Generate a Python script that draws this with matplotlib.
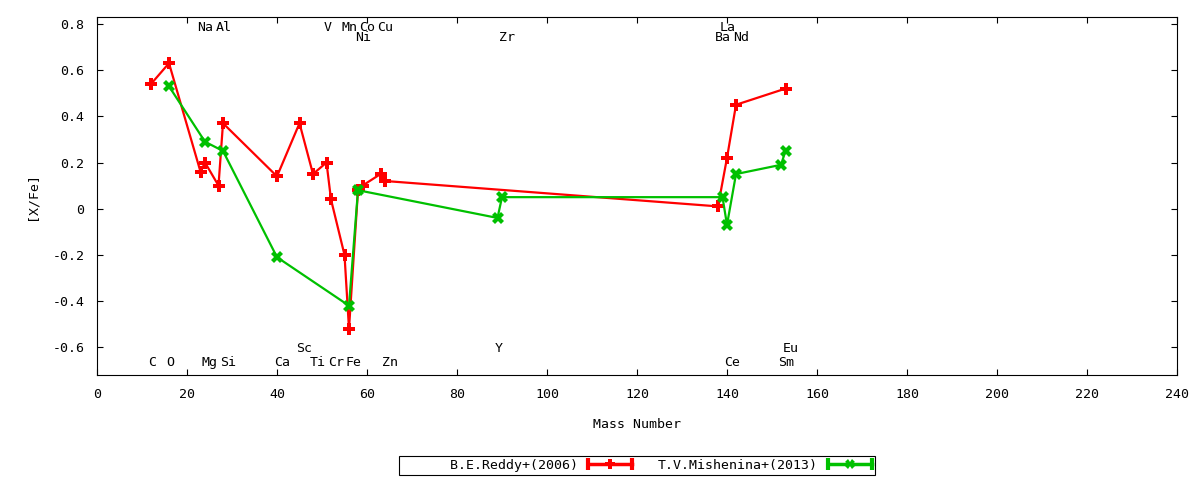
import numpy as np
import matplotlib
matplotlib.use("Agg")
import matplotlib.pyplot as plt
from matplotlib.lines import Line2D
from matplotlib.legend_handler import HandlerBase
from matplotlib.ticker import FuncFormatter

# abundances
reddy_mass = [12, 16, 23, 24, 27, 28, 40, 45, 48, 51, 52, 55, 56, 58, 59,
              63, 64, 138, 140, 142, 153]
reddy_xfe = [0.54, 0.63, 0.16, 0.20, 0.10, 0.37, 0.14, 0.37, 0.15, 0.20, 0.04,
             -0.20, -0.52, 0.08, 0.10, 0.15, 0.12, 0.01, 0.22, 0.45, 0.52]

mish_mass = [16, 24, 28, 40, 56, 58, 89, 90, 139, 140, 142, 152, 153]
mish_xfe = [0.53, 0.29, 0.25, -0.21, -0.42, 0.08, -0.04, 0.05, 0.05, -0.07,
            0.15, 0.19, 0.25]

series_labels = ["B.E.Reddy+(2006)", "T.V.Mishenina+(2013)"]

# element name labels
elem_names = ["Na", "Al", "V", "Mn", "Co", "Cu", "La",
              "Ni", "Zr", "Ba", "Nd",
              "C", "O", "Mg", "Si", "Ca", "Ti", "Cr", "Fe", "Zn", "Ce", "Sm",
              "Sc", "Y", "Eu"]
elem_mass = [23, 27, 51, 55, 59, 63, 139,
             58, 90, 138, 142,
             12, 16, 24, 28, 40, 48, 52, 56, 64, 140, 152,
             45, 89, 153]
elem_row = ["top"] * 7 + ["top2"] * 4 + ["bot"] * 11 + ["bot2"] * 3

ROW_Y = {"top": 0.785, "top2": 0.742, "bot": -0.668, "bot2": -0.607}

RED = "#ff0000"
GREEN = "#00c000"

plt.rcParams["font.family"] = "DejaVu Sans Mono"
plt.rcParams["font.size"] = 9.5
plt.rcParams["axes.unicode_minus"] = False


class CapLineHandler(HandlerBase):
    def __init__(self, marker, color, ms):
        super().__init__()
        self.marker, self.color, self.ms = marker, color, ms

    def create_artists(self, legend, orig_handle, xdescent, ydescent,
                       width, height, fontsize, trans):
        y = height / 2 - ydescent
        x0, x1 = -xdescent, width - xdescent
        line = Line2D([x0, x1], [y, y], color=self.color, lw=2.5)
        caps = Line2D([x0, x1], [y, y], ls="none", marker="|", ms=8,
                      mew=3, color=self.color)
        mk = Line2D([(x0 + x1) / 2], [y], ls="none", marker=self.marker,
                    ms=self.ms, color=self.color, mew=0)
        for a in (line, caps, mk):
            a.set_transform(trans)
        return [line, caps, mk]


fig = plt.figure(figsize=(12, 4.8), dpi=100)
ax = fig.add_axes([97 / 1200, 1 - 375 / 480, 1080 / 1200, 358 / 480])

h1, = ax.plot(reddy_mass, reddy_xfe, color=RED, lw=1.6, marker="P",
              ms=8.5, mew=0)
h2, = ax.plot(mish_mass, mish_xfe, color=GREEN, lw=1.6, marker="X",
              ms=9, mew=0)

for name, m, row in zip(elem_names, elem_mass, elem_row):
    ax.annotate(name, (m, ROW_Y[row]), xytext=(-2.2, 0),
                textcoords="offset points", ha="left", va="center")

ax.set_xlim(0, 240)
ax.set_ylim(-0.72, 0.83)
ax.set_xticks(np.arange(0, 241, 20))
ax.set_yticks(np.arange(-0.6, 0.81, 0.2))
ax.yaxis.set_major_formatter(FuncFormatter(lambda v, p: "%g" % round(v, 2)))
ax.tick_params(direction="in", top=True, right=True, length=4, width=0.8)
ax.tick_params(axis="x", pad=9)
ax.tick_params(axis="y", pad=9)
for s in ax.spines.values():
    s.set_linewidth(0.8)

ax.set_xlabel("Mass Number")
ax.set_ylabel("[X/Fe]")
ax.xaxis.set_label_coords(0.5, -0.12)
ax.yaxis.set_label_coords(-0.054, 0.5)

leg = ax.legend([h1, h2], ["      " + series_labels[0], series_labels[1]],
                handler_map={h1: CapLineHandler("P", RED, 7),
                             h2: CapLineHandler("X", GREEN, 7)},
                loc="center", bbox_to_anchor=(0.5, -0.2528), ncol=2,
                markerfirst=False, fancybox=False, edgecolor="black",
                framealpha=1, borderpad=0.25, handlelength=3.3,
                handletextpad=0.75, columnspacing=2.0, borderaxespad=0)
leg.get_frame().set_linewidth(0.8)

fig.savefig("out.png", dpi=100)
